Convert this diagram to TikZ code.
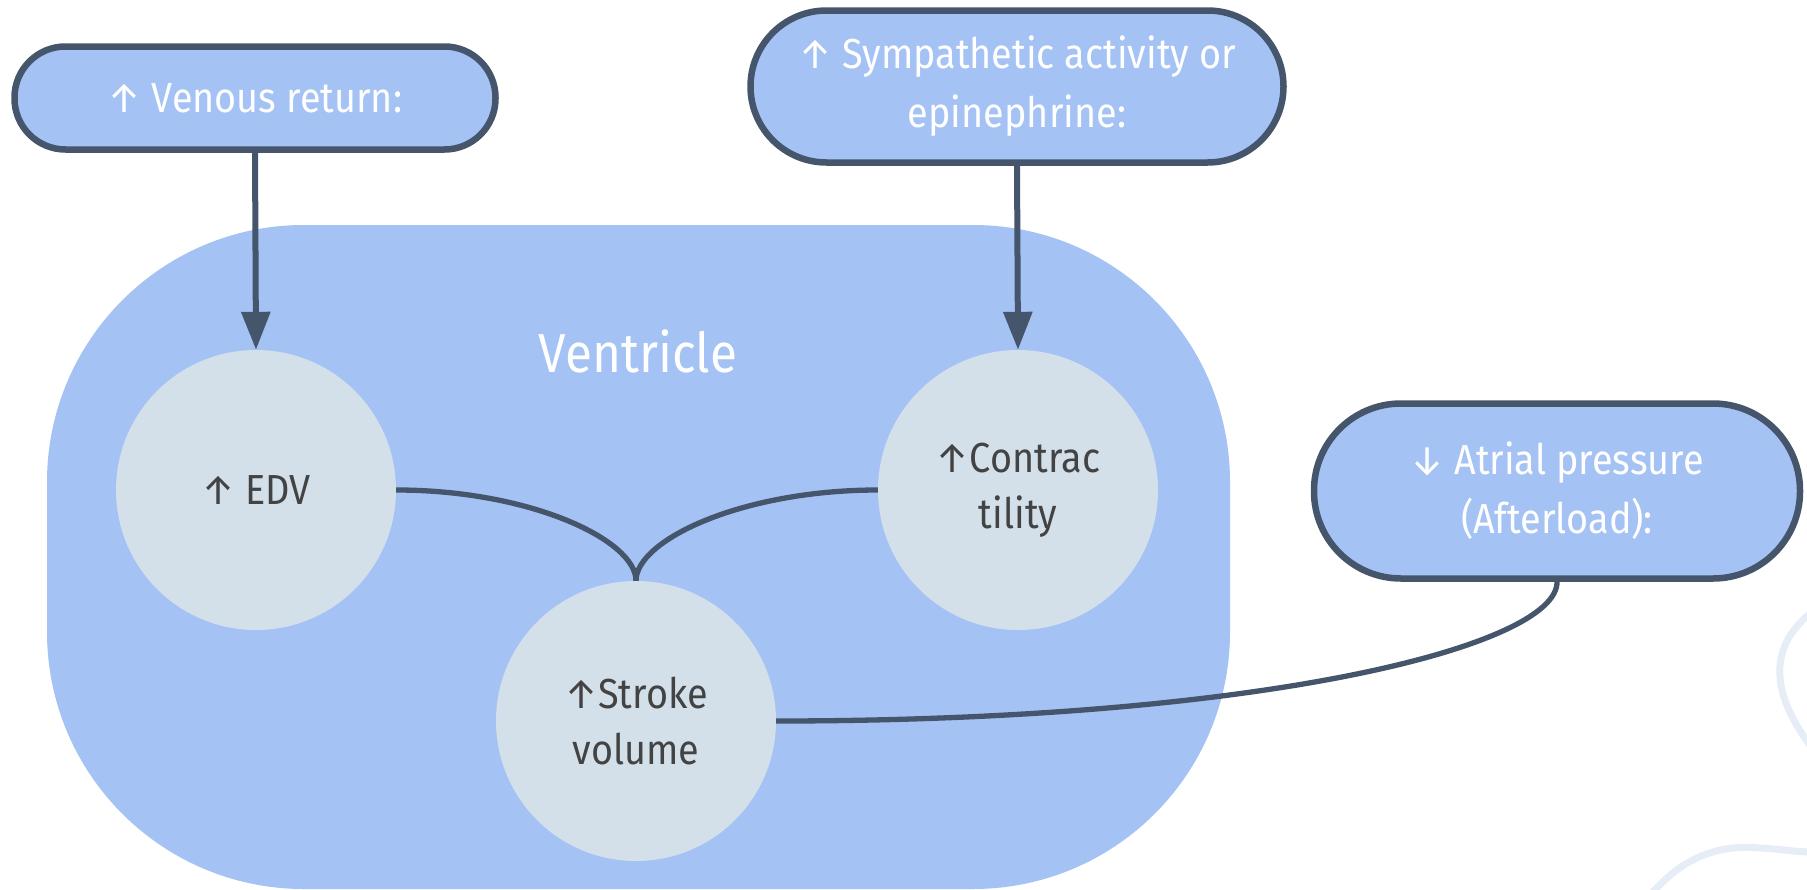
\documentclass[tikz,border=0pt]{standalone}
\usepackage{fontspec}
\setmainfont{Fira Sans}[FakeStretch=0.9]
\usetikzlibrary{arrows.meta}
\definecolor{pillfill}{HTML}{A4C2F4}
\definecolor{edge}{HTML}{45556B}
\definecolor{circfill}{HTML}{D3E0EA}
\definecolor{circtext}{HTML}{434343}
\definecolor{faint}{HTML}{E7EDF6}
\tikzset{
  pill/.style={draw=edge, line width=6.5pt, fill=pillfill, text=white, align=center,
    font=\fontsize{42}{59}\selectfont, inner sep=0pt},
  bubble/.style={circle, fill=circfill, text=circtext, align=center, minimum size=280pt,
    inner sep=0pt, font=\fontsize{42}{56}\selectfont},
  link/.style={draw=edge, line width=5.3pt},
  push/.style={draw=edge, line width=6pt, -{Triangle[length=38pt,width=28pt]}},
  deco/.style={draw=faint, line width=7pt, line cap=round}
}
\begin{document}
\begin{tikzpicture}[x=1pt,y=-1pt]
\useasboundingbox (0,0) rectangle (1807,889);
% ventricle
\fill[pillfill, rounded corners=257pt] (47,225) rectangle (1230,889);
\node[text=white, font=\fontsize{55}{60}\selectfont] (vlabel) at (638,351) {Ventricle};
% decorative curves
\draw[deco] (1812,612) .. controls (1770,645) and (1768,690) .. (1812,748);
\draw[deco] (1653,892) .. controls (1690,850) and (1730,845) .. (1760,848) .. controls (1780,849) and (1795,852) .. (1812,852);
% pills
\node[pill, minimum width=481pt, minimum height=103pt, rounded corners=51pt] (venous) at (255,98) {↑ Venous return:};
\node[pill, minimum width=533pt, minimum height=152pt, rounded corners=76pt] (symp) at (1017,86.5) {↑ Sympathetic activity or\\epinephrine:};
\node[pill, minimum width=486pt, minimum height=175pt, rounded corners=87pt] (atrial) at (1557,491) {↓ Atrial pressure\\(Afterload):};
% circles
\node[bubble] (edv) at (256,490) {↑ EDV};
\node[bubble] (contr) at (1018,490) {↑Contrac\\tility};
\node[bubble] (sv) at (636,721) {↑Stroke\\volume};
% arrows
\draw[push] (venous.south) -- (edv.north);
\draw[push] (symp.south) -- (contr.north);
% connectors
\draw[link] (edv.east) .. controls (530,490) and (636,540) .. (sv.north);
\draw[link] (contr.west) .. controls (742,490) and (636,540) .. (sv.north);
\draw[link] (sv.east) .. controls (1268,721) and (1558,645) .. (atrial.south);
\end{tikzpicture}
\end{document}
